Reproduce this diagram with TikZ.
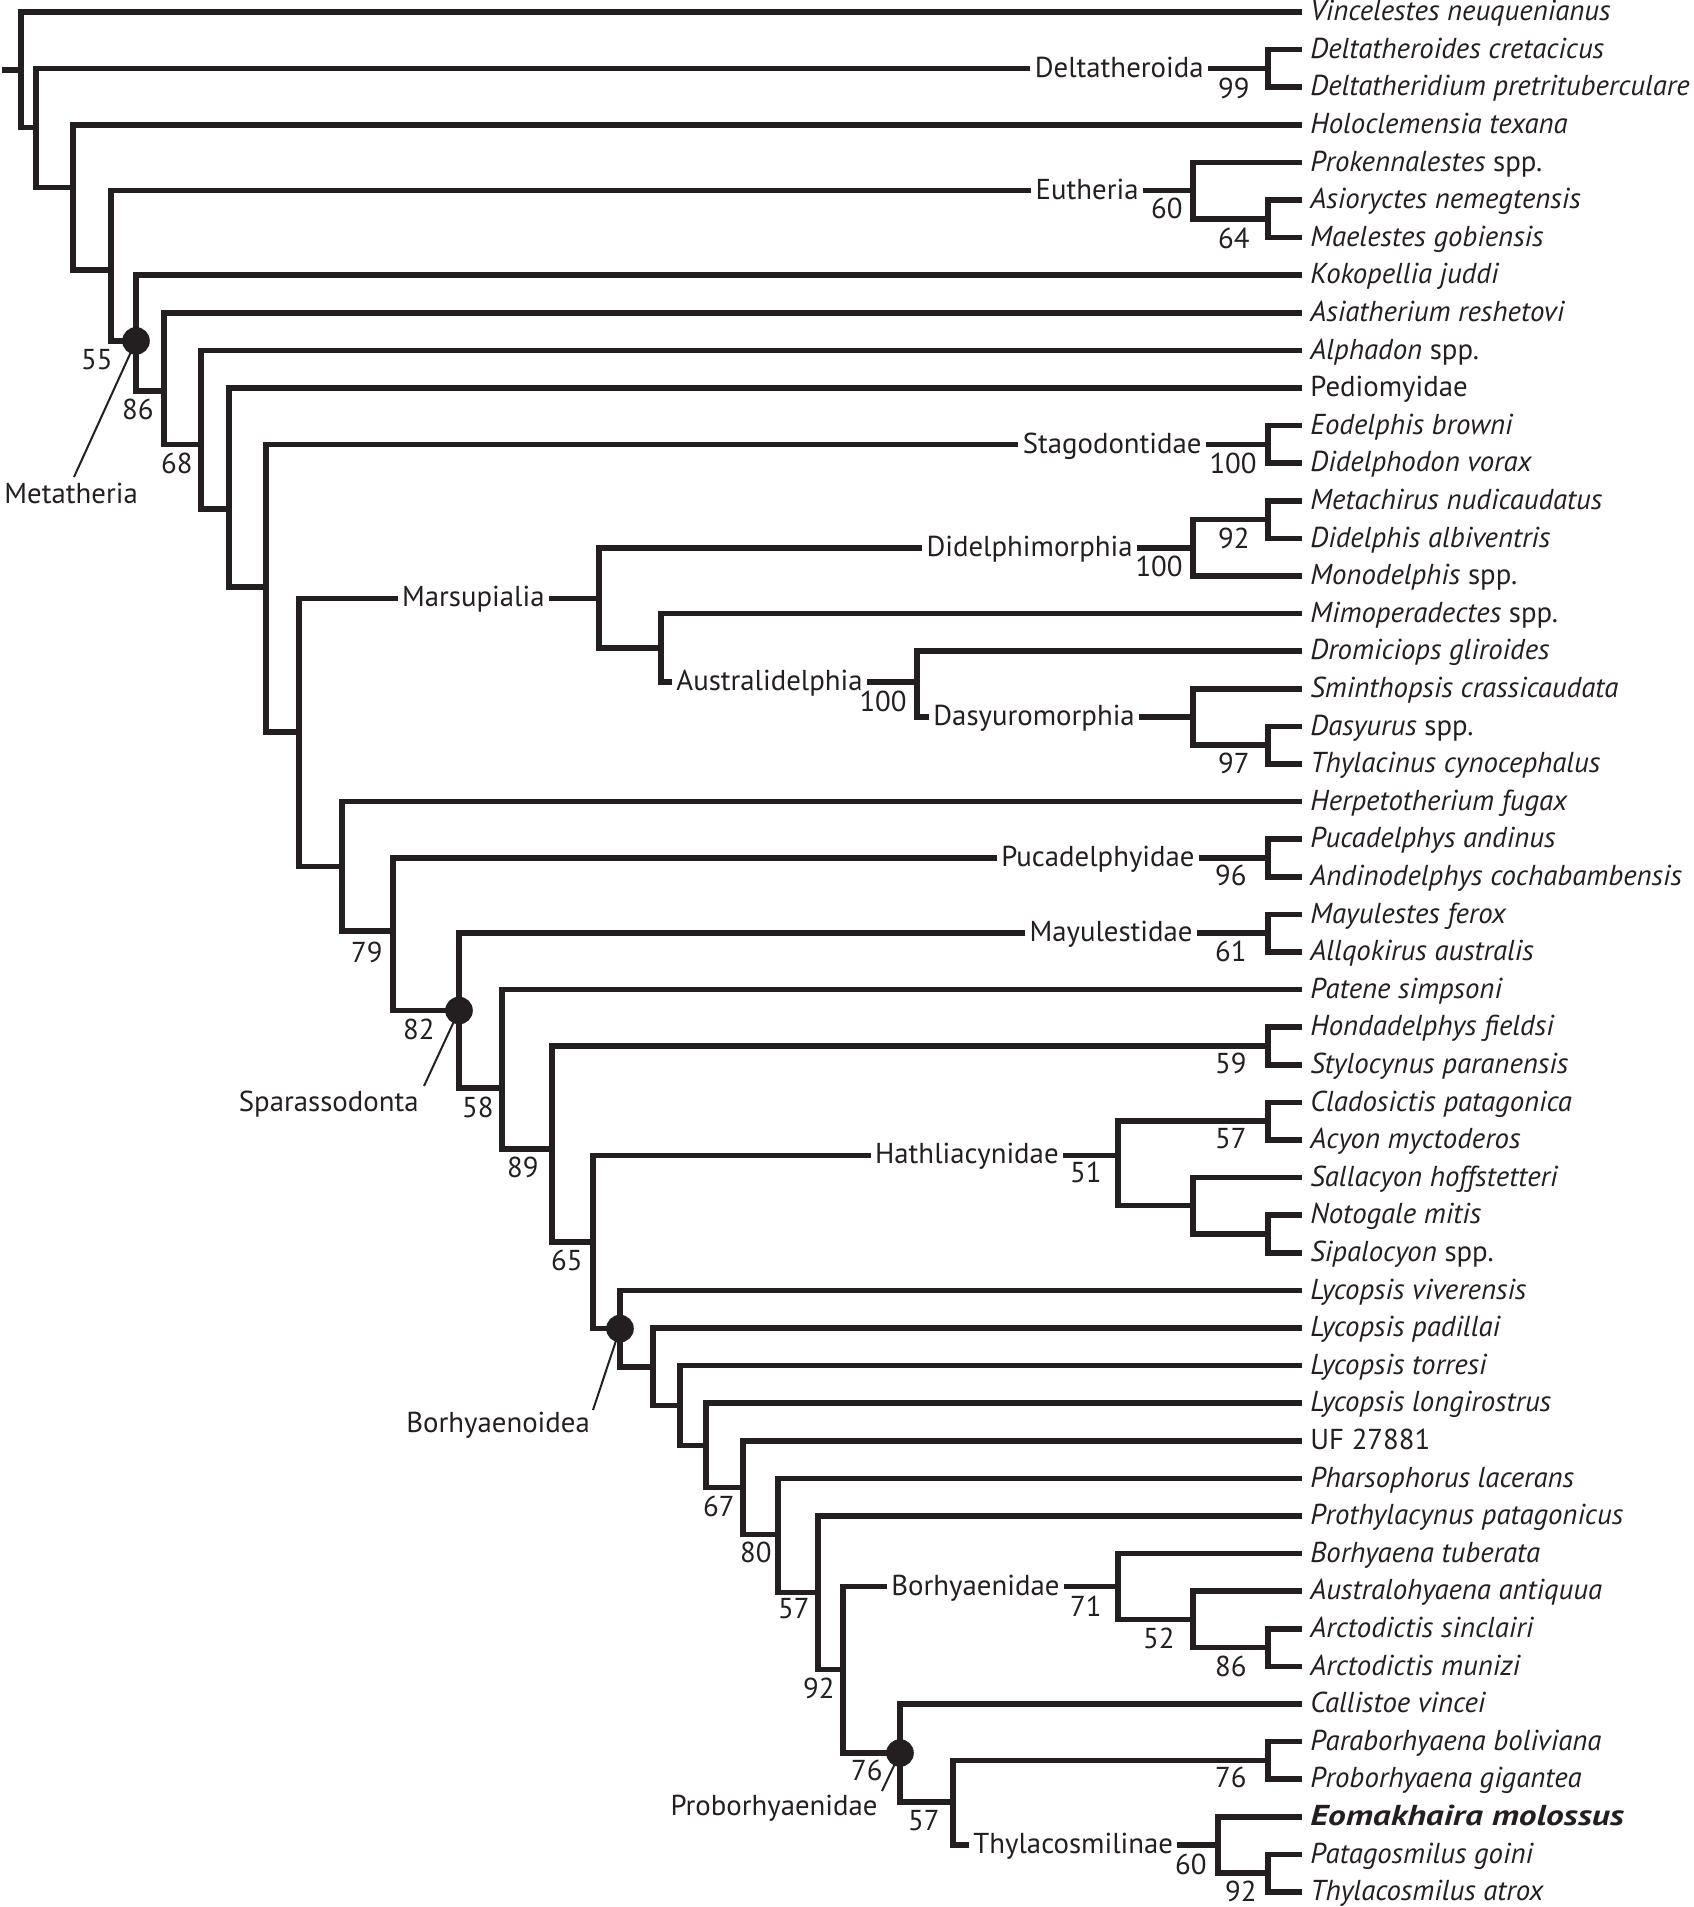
\documentclass[tikz,border=0pt]{standalone}
\usepackage{fontspec}
\setmainfont{PT Sans}
\definecolor{ink}{HTML}{231F20}
\newcommand\tfs{\fontsize{14.4}{17}\selectfont}
\begin{document}
\begin{tikzpicture}[x=0.5pt,y=-0.5pt,
 br/.style={line width=2.8pt,line join=miter,line cap=butt,draw=ink},
 taxon/.style={anchor=west,inner xsep=4pt,inner ysep=0pt,font=\tfs\itshape,text height=12.2pt,text depth=3.6pt,text=ink},
 clade/.style={inner xsep=2pt,inner ysep=0pt,font=\tfs,text height=12.2pt,text depth=3.6pt,text=ink},
 supp/.style={anchor=east,inner sep=0pt,font=\tfs,text height=10pt,text depth=0pt,text=ink},
 lbl/.style={inner sep=0pt,font=\tfs,text=ink},
 bdot/.style={circle,fill=ink,minimum size=13.8pt,inner sep=0pt},
 ptr/.style={line width=1pt,draw=ink}]
\useasboundingbox (0,0) rectangle (1693,1907);

% ---------- taxa ----------
\foreach \i/\t in {
 1/{Vincelestes neuquenianus},
 2/{Deltatheroides cretacicus},
 3/{Deltatheridium pretrituberculare},
 4/{Holoclemensia texana},
 5/{Prokennalestes\/ {\upshape spp.}},
 6/{Asioryctes nemegtensis},
 7/{Maelestes gobiensis},
 8/{Kokopellia juddi},
 9/{Asiatherium reshetovi},
 10/{Alphadon\/ {\upshape spp.}},
 11/{{\upshape Pediomyidae}},
 12/{Eodelphis browni},
 13/{Didelphodon vorax},
 14/{Metachirus nudicaudatus},
 15/{Didelphis albiventris},
 16/{Monodelphis\/ {\upshape spp.}},
 17/{Mimoperadectes\/ {\upshape spp.}},
 18/{Dromiciops gliroides},
 19/{Sminthopsis crassicaudata},
 20/{Dasyurus\/ {\upshape spp.}},
 21/{Thylacinus cynocephalus},
 22/{Herpetotherium fugax},
 23/{Pucadelphys andinus},
 24/{Andinodelphys cochabambensis},
 25/{Mayulestes ferox},
 26/{Allqokirus australis},
 27/{Patene simpsoni},
 28/{Hondadelphys fieldsi},
 29/{Stylocynus paranensis},
 30/{Cladosictis patagonica},
 31/{Acyon myctoderos},
 32/{Sallacyon hoffstetteri},
 33/{Notogale mitis},
 34/{Sipalocyon\/ {\upshape spp.}},
 35/{Lycopsis viverensis},
 36/{Lycopsis padillai},
 37/{Lycopsis torresi},
 38/{Lycopsis longirostrus},
 39/{{\upshape UF 27881}},
 40/{Pharsophorus lacerans},
 41/{Prothylacynus patagonicus},
 42/{Borhyaena tuberata},
 43/{Australohyaena antiquua},
 44/{Arctodictis sinclairi},
 45/{Arctodictis munizi},
 46/{Callistoe vincei},
 47/{Paraborhyaena boliviana},
 48/{Proborhyaena gigantea},
 49/{\scalebox{1.23}[1]{\bfseries Eomakhaira molossus}},
 50/{Patagosmilus goini},
 51/{Thylacosmilus atrox}}
 {\node[taxon] (t\i) at (1302,{12+37.6*(\i-1)}) {\t};}

% ---------- internal node positions ----------
\coordinate (R0) at (2,70);
\coordinate (R) at (21,70);
\coordinate (N2) at (36,127.6);
\coordinate (N3) at (73,187.3);
\coordinate (N4) at (111,270.1);
\coordinate (Meta) at (136,340.9);
\coordinate (N6) at (164,390.9);
\coordinate (N7) at (201,444.4);
\coordinate (N8) at (229,509);
\coordinate (N9) at (266,587);
\coordinate (N10) at (299,731.8);
\coordinate (N11) at (342,866.3);
\coordinate (N12) at (393,931);
\coordinate (Spar) at (459,1010.5);
\coordinate (S2) at (502,1087.7);
\coordinate (S3) at (552,1149);
\coordinate (S4) at (593,1242.2);
\coordinate (Bor) at (620,1328.6);
\coordinate (B2) at (653,1366.8);
\coordinate (B3) at (680,1405.3);
\coordinate (B4) at (706,1445.3);
\coordinate (B5) at (743,1487.5);
\coordinate (B6) at (778,1534.5);
\coordinate (B7) at (818,1592.4);
\coordinate (B8) at (843,1669.6);
\coordinate (Prob) at (900,1753);
\coordinate (P2) at (953,1802);
\coordinate (Th) at (1218,1845);
\coordinate (T2) at (1268,1873.2);
\coordinate (Pb) at (1268,1760.4);
\coordinate (Bh) at (1118,1586.5);
\coordinate (Bo2) at (1193,1619.4);
\coordinate (Bo3) at (1268,1647.6);
\coordinate (Hath) at (1118,1155.3);
\coordinate (H1) at (1268,1121.2);
\coordinate (H2) at (1193,1205.6);
\coordinate (H3) at (1268,1234);
\coordinate (Ho) at (1268,1046);
\coordinate (My) at (1268,933.2);
\coordinate (Pu) at (1268,858);
\coordinate (Ma) at (599,598.3);
\coordinate (Di) at (1193,547.8);
\coordinate (D2) at (1268,519.6);
\coordinate (Mk) at (661,648);
\coordinate (Au) at (917,682);
\coordinate (Ds) at (1193,717.2);
\coordinate (Ds2) at (1268,745.2);
\coordinate (St) at (1268,444.4);
\coordinate (Eu) at (1193,190.6);
\coordinate (E2) at (1268,218.8);
\coordinate (Dt) at (1268,68.4);

% ---------- clade labels on branches ----------
\node[clade,anchor=east] (lDt) at (1208,68.4) {Deltatheroida};
\node[clade,anchor=east] (lEu) at (1143,190.6) {Eutheria};
\node[clade,anchor=east] (lSt) at (1206,444.4) {Stagodontidae};
\node[clade,anchor=east] (lMa) at (549,598.3) {Marsupialia};
\node[clade,anchor=east] (lDi) at (1137,547.8) {Didelphimorphia};
\node[clade,anchor=west] (lAu) at (672,682) {Australidelphia};
\node[clade,anchor=west] (lDs) at (929,717.2) {Dasyuromorphia};
\node[clade,anchor=east] (lPu) at (1199,858) {Pucadelphyidae};
\node[clade,anchor=east] (lMy) at (1197,933.2) {Mayulestidae};
\node[clade,anchor=east] (lHath) at (1063,1155.3) {Hathliacynidae};
\node[clade,anchor=west] (lBh) at (887,1586.5) {Borhyaenidae};
\node[clade,anchor=west] (lTh) at (969,1845) {Thylacosmilinae};

% ---------- branches ----------
\draw[br] (R0) -- (R);
\draw[br] (t1.west) -- (R |- t1.west) -- (R |- N2) -- (N2);
\draw[br] (lDt.west) -- (N2 |- lDt.west) -- (N2 |- N3) -- (N3);
\draw[br] (lDt.east) -- (Dt);
\draw[br] (t2.west) -- (Dt |- t2.west) -- (Dt |- t3.west) -- (t3.west);
\draw[br] (t4.west) -- (N3 |- t4.west) -- (N3 |- N4) -- (N4);
\draw[br] (lEu.west) -- (N4 |- lEu.west) -- (N4 |- Meta) -- (Meta);
\draw[br] (lEu.east) -- (Eu);
\draw[br] (t5.west) -- (Eu |- t5.west) -- (Eu |- E2) -- (E2);
\draw[br] (t6.west) -- (E2 |- t6.west) -- (E2 |- t7.west) -- (t7.west);
\draw[br] (t8.west) -- (Meta |- t8.west) -- (Meta |- N6) -- (N6);
\draw[br] (t9.west) -- (N6 |- t9.west) -- (N6 |- N7) -- (N7);
\draw[br] (t10.west) -- (N7 |- t10.west) -- (N7 |- N8) -- (N8);
\draw[br] (t11.west) -- (N8 |- t11.west) -- (N8 |- N9) -- (N9);
\draw[br] (lSt.west) -- (N9 |- lSt.west) -- (N9 |- N10) -- (N10);
\draw[br] (lSt.east) -- (St);
\draw[br] (t12.west) -- (St |- t12.west) -- (St |- t13.west) -- (t13.west);
\draw[br] (lMa.west) -- (N10 |- lMa.west) -- (N10 |- N11) -- (N11);
\draw[br] (lMa.east) -- (Ma);
\draw[br] (lDi.west) -- (Ma |- lDi.west) -- (Ma |- Mk) -- (Mk);
\draw[br] (lDi.east) -- (Di);
\draw[br] (D2) -- (Di |- D2) -- (Di |- t16.west) -- (t16.west);
\draw[br] (t14.west) -- (D2 |- t14.west) -- (D2 |- t15.west) -- (t15.west);
\draw[br] (t17.west) -- (Mk |- t17.west) -- (Mk |- lAu.west) -- (lAu.west);
\draw[br] (lAu.east) -- (Au);
\draw[br] (t18.west) -- (Au |- t18.west) -- (Au |- lDs.west) -- (lDs.west);
\draw[br] (lDs.east) -- (Ds);
\draw[br] (t19.west) -- (Ds |- t19.west) -- (Ds |- Ds2) -- (Ds2);
\draw[br] (t20.west) -- (Ds2 |- t20.west) -- (Ds2 |- t21.west) -- (t21.west);
\draw[br] (t22.west) -- (N11 |- t22.west) -- (N11 |- N12) -- (N12);
\draw[br] (lPu.west) -- (N12 |- lPu.west) -- (N12 |- Spar) -- (Spar);
\draw[br] (lPu.east) -- (Pu);
\draw[br] (t23.west) -- (Pu |- t23.west) -- (Pu |- t24.west) -- (t24.west);
\draw[br] (lMy.west) -- (Spar |- lMy.west) -- (Spar |- S2) -- (S2);
\draw[br] (lMy.east) -- (My);
\draw[br] (t25.west) -- (My |- t25.west) -- (My |- t26.west) -- (t26.west);
\draw[br] (t27.west) -- (S2 |- t27.west) -- (S2 |- S3) -- (S3);
\draw[br] (Ho) -- (S3 |- Ho) -- (S3 |- S4) -- (S4);
\draw[br] (t28.west) -- (Ho |- t28.west) -- (Ho |- t29.west) -- (t29.west);
\draw[br] (lHath.west) -- (S4 |- lHath.west) -- (S4 |- Bor) -- (Bor);
\draw[br] (lHath.east) -- (Hath);
\draw[br] (H1) -- (Hath |- H1) -- (Hath |- H2) -- (H2);
\draw[br] (t30.west) -- (H1 |- t30.west) -- (H1 |- t31.west) -- (t31.west);
\draw[br] (t32.west) -- (H2 |- t32.west) -- (H2 |- H3) -- (H3);
\draw[br] (t33.west) -- (H3 |- t33.west) -- (H3 |- t34.west) -- (t34.west);
\draw[br] (t35.west) -- (Bor |- t35.west) -- (Bor |- B2) -- (B2);
\draw[br] (t36.west) -- (B2 |- t36.west) -- (B2 |- B3) -- (B3);
\draw[br] (t37.west) -- (B3 |- t37.west) -- (B3 |- B4) -- (B4);
\draw[br] (t38.west) -- (B4 |- t38.west) -- (B4 |- B5) -- (B5);
\draw[br] (t39.west) -- (B5 |- t39.west) -- (B5 |- B6) -- (B6);
\draw[br] (t40.west) -- (B6 |- t40.west) -- (B6 |- B7) -- (B7);
\draw[br] (t41.west) -- (B7 |- t41.west) -- (B7 |- B8) -- (B8);
\draw[br] (lBh.west) -- (B8 |- lBh.west) -- (B8 |- Prob) -- (Prob);
\draw[br] (lBh.east) -- (Bh);
\draw[br] (t42.west) -- (Bh |- t42.west) -- (Bh |- Bo2) -- (Bo2);
\draw[br] (t43.west) -- (Bo2 |- t43.west) -- (Bo2 |- Bo3) -- (Bo3);
\draw[br] (t44.west) -- (Bo3 |- t44.west) -- (Bo3 |- t45.west) -- (t45.west);
\draw[br] (t46.west) -- (Prob |- t46.west) -- (Prob |- P2) -- (P2);
\draw[br] (Pb) -- (P2 |- Pb) -- (P2 |- lTh.west) -- (lTh.west);
\draw[br] (lTh.east) -- (Th);
\draw[br] (t47.west) -- (Pb |- t47.west) -- (Pb |- t48.west) -- (t48.west);
\draw[br] (t49.west) -- (Th |- t49.west) -- (Th |- T2) -- (T2);
\draw[br] (t50.west) -- (T2 |- t50.west) -- (T2 |- t51.west) -- (t51.west);

% ---------- named clades with pointers ----------
\node[lbl,anchor=base west] (nMeta) at (4,503) {Metatheria};
\node[lbl,anchor=base east] (nSpar) at (419,1111) {Sparassodonta};
\node[lbl,anchor=base west] (nBor) at (406,1432) {Borhyaenoidea};
\node[lbl,anchor=base east] (nProb) at (878,1815) {Proborhyaenidae};
\coordinate (pMeta) at (74,477);
\coordinate (pSpar) at (424,1086);
\coordinate (pBor) at (593,1410);
\coordinate (pProb) at (882,1791);
\node[bdot] (dMeta) at (Meta) {};
\node[bdot] (dSpar) at (Spar) {};
\node[bdot] (dBor) at (Bor) {};
\node[bdot] (dProb) at (Prob) {};
\draw[ptr] (pMeta) -- (dMeta.center);
\draw[ptr] (pSpar) -- (dSpar.center);
\draw[ptr] (pBor) -- (dBor.center);
\draw[ptr] (pProb) -- (dProb.center);

% ---------- support values ----------
\foreach \n/\x/\y/\v in {
 s1/1250/88/99, s2/1183/208.5/60, s3/1250/238.5/64, s4/113/359/55,
 s5/154/409/86, s6/193/463/68, s7/1257/463/100, s8/1250/538.5/92,
 s9/1183/566/100, s10/907/701/100, s11/1250/763/97, s12/1247/875/96,
 s13/383/952/79, s14/1247/951/61, s15/435/1029/82, s16/1247/1063.5/59,
 s17/494/1107/58, s18/1247/1138.5/57, s19/1102/1172/51, s20/539/1167/89,
 s21/583/1260.5/65, s22/735/1506/67, s23/772/1552.5/80, s24/810/1608.5/57,
 s25/1102/1606/71, s26/1175/1638/52, s27/1247/1666/86, s28/835/1688.5/92,
 s29/883/1770/76, s30/1247/1777/76, s31/940/1820/57, s32/1207/1864/60,
 s33/1257/1891/92}
 {\node[supp] (\n) at (\x,\y) {\v};}
\end{tikzpicture}
\end{document}
